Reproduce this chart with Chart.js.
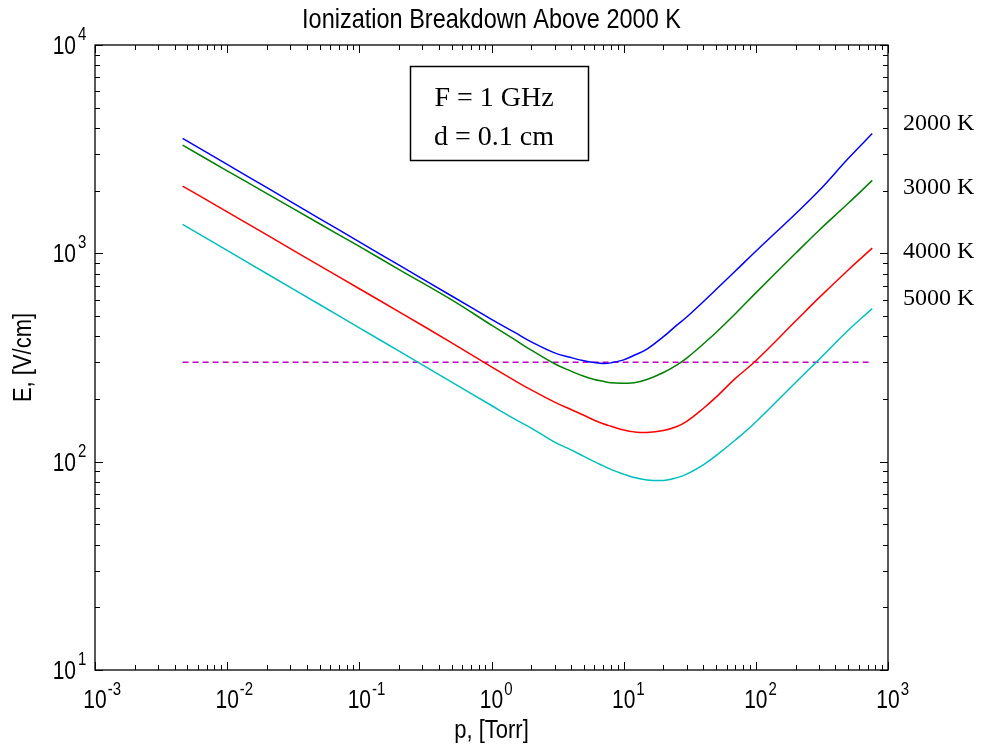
<!DOCTYPE html>
<html><head><meta charset="utf-8">
<script src="https://cdn.jsdelivr.net/npm/chart.js@4.4.1/dist/chart.umd.min.js"></script>
<style>html,body{margin:0;padding:0;background:#fff}#wrap{width:986px;height:753px;position:relative}</style>
</head><body><div id="wrap"><canvas id="c" width="986" height="753"></canvas></div>
<script>
// ---- data ----
const pressure = [0.0046, 0.01, 0.02, 0.05, 0.1, 0.2, 0.5, 1, 1.5, 2, 3, 4, 5, 6, 7, 8, 10, 12, 15, 20, 25, 30, 40, 50, 70, 100, 200, 300, 500, 760];
const E2000 = [3565, 2673, 2065, 1469, 1135, 877, 624, 482, 417, 376, 333, 316, 305, 299, 296, 298, 308, 324, 347, 398, 450, 495, 586, 670, 822, 1023, 1549, 1995, 2851, 3758];
const E3000 = [3304, 2489, 1936, 1387, 1079, 836, 598, 452, 385, 343, 295, 272, 257, 248, 243, 239, 238, 239, 248, 268, 290, 314, 367, 417, 513, 646, 1000, 1288, 1738, 2239];
const E4000 = [2104, 1581, 1225, 873, 676, 524, 372, 285, 245, 221, 193, 178, 167, 158, 152, 148, 142, 139, 138, 141, 147, 156, 180, 204, 251, 305, 473, 611, 832, 1059];
const E5000 = [1377, 1033, 798, 568, 439, 339, 241, 186, 160, 145, 124, 114, 106, 100, 95.5, 91.8, 87.1, 83.9, 81.7, 81.3, 83.6, 87.1, 96.6, 107, 127, 155, 240, 309, 427, 543];
const thresholdP = [0.0046, 760];
const thresholdE = [300, 300];
const seriesLabels = ['2000 K', '3000 K', '4000 K', '5000 K'];
const seriesLabelLevels = [4270, 2100, 1040, 617];
const xTickExponents = [-3, -2, -1, 0, 1, 2, 3];
const yTickExponents = [1, 2, 3, 4];
const titleText = 'Ionization Breakdown Above 2000 K';
const xTitle = 'p, [Torr]';
const yTitle = 'E, [V/cm]';
const noteLines = ['F = 1 GHz', 'd = 0.1 cm'];

const pts = (xs, ys) => xs.map((x, i) => ({x, y: ys[i]}));
const SANS = '"Liberation Sans", Arial, sans-serif';
const SERIF = '"Liberation Serif", "DejaVu Serif", serif';

function sText(ctx, text, x, y, size, align, vs, font) {
  ctx.save();
  ctx.translate(x, y);
  ctx.scale(1, vs);
  ctx.font = size + 'px ' + (font || SANS);
  ctx.textAlign = align;
  ctx.textBaseline = 'alphabetic';
  ctx.fillText(text, 0, 0);
  ctx.restore();
}

const decor = {
  id: 'decor',
  afterDatasetsDraw(chart) {
    const ctx = chart.ctx, a = chart.chartArea;
    const xs = chart.scales.x, ys = chart.scales.y;
    ctx.save();
    ctx.strokeStyle = '#000';
    ctx.lineWidth = 1.3;
    ctx.strokeRect(a.left, a.top, a.right - a.left, a.bottom - a.top);
    ctx.lineWidth = 1;
    ctx.beginPath();
    for (let k = -3; k <= 3; k++) {
      for (let m = 1; m <= 9; m++) {
        if (k === 3 && m > 1) break;
        const v = m * Math.pow(10, k);
        const px = Math.round(xs.getPixelForValue(v)) + 0.5;
        const len = m === 1 ? 8 : 5;
        ctx.moveTo(px, a.bottom); ctx.lineTo(px, a.bottom - len);
        ctx.moveTo(px, a.top); ctx.lineTo(px, a.top + len);
      }
    }
    for (let k = 1; k <= 4; k++) {
      for (let m = 1; m <= 9; m++) {
        if (k === 4 && m > 1) break;
        const v = m * Math.pow(10, k);
        const py = Math.round(ys.getPixelForValue(v)) + 0.5;
        const len = m === 1 ? 8 : 5;
        ctx.moveTo(a.left, py); ctx.lineTo(a.left + len, py);
        ctx.moveTo(a.right, py); ctx.lineTo(a.right - len, py);
      }
    }
    ctx.stroke();
    ctx.restore();
  },
  afterDraw(chart) {
    const ctx = chart.ctx, a = chart.chartArea;
    const xs = chart.scales.x, ys = chart.scales.y;
    ctx.save();
    ctx.fillStyle = '#000';
    sText(ctx, titleText, (a.left + a.right) / 2, 28, 23.5, 'center', 1.15);
    xTickExponents.forEach(e => {
      const px = xs.getPixelForValue(Math.pow(10, e));
      ctx.font = '21px ' + SANS;
      const w = ctx.measureText('10').width;
      sText(ctx, '10', px, a.bottom + 38, 21, 'center', 1.25);
      sText(ctx, String(e), px + w / 2 + 1, a.bottom + 25, 15, 'left', 1.2);
    });
    yTickExponents.forEach(e => {
      const py = ys.getPixelForValue(Math.pow(10, e));
      sText(ctx, '10', a.left - 19, py + 9, 21, 'right', 1.25);
      sText(ctx, String(e), a.left - 17, py - 5, 15, 'left', 1.2);
    });
    sText(ctx, xTitle, (a.left + a.right) / 2, 738, 22, 'center', 1.2);
    ctx.save();
    ctx.translate(31, (a.top + a.bottom) / 2);
    ctx.rotate(-Math.PI / 2);
    sText(ctx, yTitle, 0, 0, 22, 'center', 1.2);
    ctx.restore();
    ctx.strokeStyle = '#000';
    ctx.lineWidth = 1.5;
    ctx.strokeRect(410.5, 66.5, 178, 94);
    sText(ctx, noteLines[0], 494, 106, 28, 'center', 1, SERIF);
    sText(ctx, noteLines[1], 494, 145, 28, 'center', 1, SERIF);
    seriesLabels.forEach((t, i) => {
      const py = ys.getPixelForValue(seriesLabelLevels[i]);
      sText(ctx, t, a.right + 15, py + 8, 24, 'left', 1, SERIF);
    });
    ctx.restore();
  }
};

const lineDs = (label, ys, color) => ({
  label, data: pts(pressure, ys), borderColor: color, borderWidth: 1.5,
  pointRadius: 0, fill: false, tension: 0.4
});

new Chart(document.getElementById('c'), {
  type: 'line',
  data: {
    datasets: [
      lineDs(seriesLabels[0], E2000, '#0000FF'),
      lineDs(seriesLabels[1], E3000, '#008000'),
      lineDs(seriesLabels[2], E4000, '#FF0000'),
      lineDs(seriesLabels[3], E5000, '#00BFBF'),
      {label: 'threshold', data: pts(thresholdP, thresholdE), borderColor: '#BF00BF', borderWidth: 1.5,
       borderDash: [6, 4], pointRadius: 0, fill: false}
    ]
  },
  options: {
    responsive: false,
    animation: false,
    layout: {padding: {left: 95, right: 98, top: 45, bottom: 83}},
    plugins: {legend: {display: false}, tooltip: {enabled: false}, title: {display: false}},
    scales: {
      x: {type: 'logarithmic', min: 1e-3, max: 1e3, display: false},
      y: {type: 'logarithmic', min: 10, max: 1e4, display: false}
    }
  },
  plugins: [decor]
});
</script>
</body></html>
